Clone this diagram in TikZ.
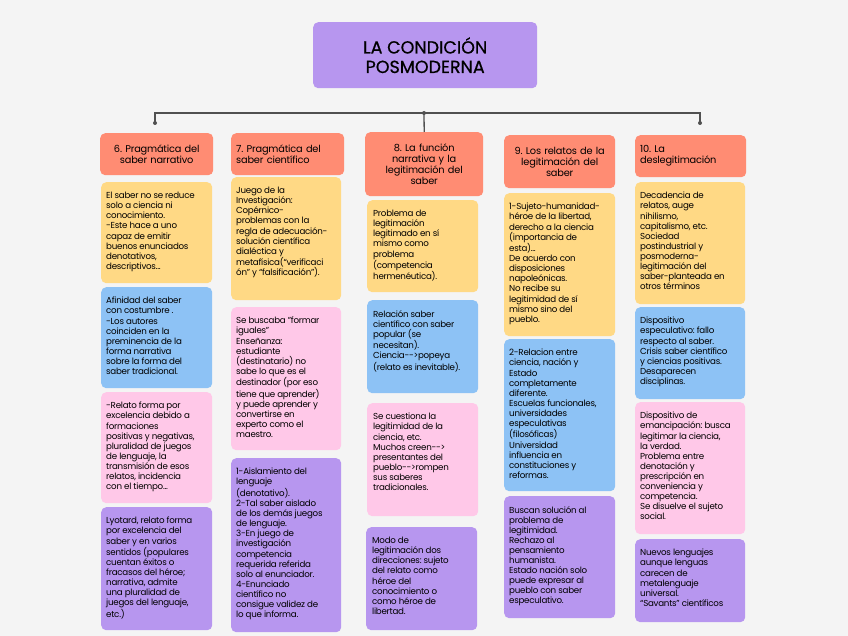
\documentclass[tikz,border=0pt]{standalone}
\usepackage{fontspec}
\setmainfont{Poppins}
\frenchspacing
\definecolor{bgc}{HTML}{F4F4F4}
\definecolor{salmon}{HTML}{FF8C73}
\definecolor{yel}{HTML}{FFD985}
\definecolor{blu}{HTML}{8DC2F5}
\definecolor{pnk}{HTML}{FFC8E8}
\definecolor{prp}{HTML}{B796EF}
\definecolor{linkc}{HTML}{505050}
\tikzset{
  cell/.style={rounded corners=5pt, inner sep=0pt, anchor=north west},
  note/.style={anchor=north west, inner sep=0pt, align=left, font=\fontsize{8.7}{10.1}\selectfont\addfontfeature{LetterSpace=-3}},
  head/.style={rounded corners=5pt, fill=salmon, anchor=north west, inner sep=5pt, font=\fontsize{9.8}{11}\selectfont\addfontfeature{LetterSpace=-2}},
  link/.style={draw=linkc, line width=1.3pt},
}
\begin{document}
\begin{tikzpicture}[x=1pt,y=-1pt]
  \fill[bgc] (0,0) rectangle (848,636);
  \node[cell, fill=prp, minimum width=224pt, minimum height=66pt, align=center, font=\fontsize{17.5}{19.5}\selectfont\addfontfeature{FakeBold=0.6}] (t) at (313,22) {LA CONDICIÓN\\POSMODERNA};

  % headers
  \node[head, text width=103pt, minimum height=42pt, align=center] (h6) at (100,133) {6. Pragmática del\\saber narrativo};
  \node[head, text width=103pt, minimum height=42pt, align=left] (h7) at (231,133) {7. Pragmática del\\saber científico};
  \node[head, text width=108pt, minimum height=64pt, align=center] (h8) at (365,132) {8. La función\\narrativa y la\\legitimación del\\saber};
  \node[head, text width=101pt, minimum height=53pt, align=center] (h9) at (504,135) {9. Los relatos de la\\legitimación del\\saber};
  \node[head, text width=101pt, minimum height=42pt, align=left] (h10) at (635,135) {10. La\\deslegitimación};

  % links
  \coordinate (j6) at (155,123);
  \coordinate (jm) at (424,113);
  \coordinate (j10) at (700,123);
  \draw[link] (j6) |- (jm) -| (j10);
  \draw[link] (jm) -- (h8.north);
  \fill[linkc] (j6) circle (2pt) (jm) circle (2pt) (j10) circle (2pt);

  % column 6
  \node[cell, fill=yel, minimum width=111pt, minimum height=101pt] (n6a) at (101,182) {};
  \node[note] (n6at) at ([shift={(5pt,-10pt)}]n6a.north west) {El saber no se reduce\\solo a ciencia ni\\conocimiento.\\-Este hace a uno\\capaz de emitir\\buenos enunciados\\denotativos,\\descriptivos...};
  \node[cell, fill=blu, minimum width=111pt, minimum height=101pt] (n6b) at (101,287) {};
  \node[note] (n6bt) at ([shift={(5pt,-10pt)}]n6b.north west) {Afinidad del saber\\con costumbre .\\-Los autores\\coinciden en la\\preminencia de la\\forma narrativa\\sobre la forma del\\saber tradicional.};
  \node[cell, fill=pnk, minimum width=111pt, minimum height=111pt] (n6c) at (101,392) {};
  \node[note] (n6ct) at ([shift={(5pt,-10pt)}]n6c.north west) {-Relato forma por\\excelencia debido a\\formaciones\\positivas y negativas,\\pluralidad de juegos\\de lenguaje, la\\transmisión de esos\\relatos, incidencia\\con el tiempo...};
  \node[cell, fill=prp, minimum width=111pt, minimum height=123pt] (n6d) at (101,507) {};
  \node[note] (n6dt) at ([shift={(5pt,-10pt)}]n6d.north west) {Lyotard, relato forma\\por excelencia del\\saber y en varios\\sentidos (populares\\cuentan éxitos o\\fracasos del héroe;\\narrativa, admite\\una pluralidad de\\juegos del lenguaje,\\etc.)};

  % column 7
  \node[cell, fill=yel, minimum width=110pt, minimum height=123pt] (n7a) at (231,177) {};
  \node[note] (n7at) at ([shift={(5pt,-10pt)}]n7a.north west) {Juego de la\\Investigación:\\Copérnico-\\ problemas con la\\regla de adecuación-\\solución científica\\dialéctica y\\metafísica(“verificaci\\ón” y “falsificación”).};
  \node[cell, fill=pnk, minimum width=110pt, minimum height=143pt] (n7b) at (231,307) {};
  \node[note] (n7bt) at ([shift={(5pt,-10pt)}]n7b.north west) {Se buscaba "formar\\iguales"\\Enseñanza:\\estudiante\\(destinatario) no\\sabe lo que es el\\destinador (por eso\\tiene que aprender)\\y puede aprender y\\convertirse en\\experto como el\\maestro.};
  \node[cell, fill=prp, minimum width=110pt, minimum height=174pt] (n7c) at (231,458) {};
  \node[note] (n7ct) at ([shift={(5pt,-10pt)}]n7c.north west) {1-Aislamiento del\\lenguaje\\(denotativo).\\2-Tal saber aislado\\de los demás juegos\\de lenguaje.\\3-En juego de\\investigación\\competencia\\requerida referida\\solo al enunciador.\\4-Enunciado\\científico no\\consigue validez de\\lo que informa.};

  % column 8
  \node[cell, fill=yel, minimum width=111pt, minimum height=92pt] (n8a) at (367,200) {};
  \node[note] (n8at) at ([shift={(6pt,-10pt)}]n8a.north west) {Problema de\\legitimación\\legitimado en sí\\mismo como\\problema\\(competencia\\hermenéutica).};
  \node[cell, fill=blu, minimum width=111pt, minimum height=93pt] (n8b) at (367,300) {};
  \node[note] (n8bt) at ([shift={(6pt,-10pt)}]n8b.north west) {Relación saber\\científico con saber\\popular (se\\necesitan).\\Ciencia{-}{-}>popeya\\(relato es inevitable).};
  \node[cell, fill=pnk, minimum width=111pt, minimum height=113pt] (n8c) at (367,403) {};
  \node[note] (n8ct) at ([shift={(6pt,-10pt)}]n8c.north west) {Se cuestiona la\\legitimidad de la\\ciencia, etc.\\Muchos creen{-}{-}>\\presentantes del\\pueblo{-}{-}>rompen\\sus saberes\\tradicionales.};
  \node[cell, fill=prp, minimum width=111pt, minimum height=103pt] (n8d) at (366,527) {};
  \node[note] (n8dt) at ([shift={(6pt,-10pt)}]n8d.north west) {Modo de\\legitimación dos\\direcciones: sujeto\\del relato como\\héroe del\\conocimiento o\\como héroe de\\libertad.};

  % column 9
  \node[cell, fill=yel, minimum width=111pt, minimum height=143pt] (n9a) at (504,193) {};
  \node[note] (n9at) at ([shift={(5pt,-10pt)}]n9a.north west) {1-Sujeto-humanidad-\\héroe de la libertad,\\derecho a la ciencia\\(importancia de\\esta)...\\De acuerdo con\\disposiciones\\napoleónicas.\\No recibe su\\legitimidad de sí\\mismo sino del\\pueblo.};
  \node[cell, fill=blu, minimum width=111pt, minimum height=152pt] (n9b) at (504,339) {};
  \node[note] (n9bt) at ([shift={(5pt,-10pt)}]n9b.north west) {2-Relacion entre\\ciencia, nación y\\Estado\\completamente\\diferente.\\Escuelas funcionales,\\universidades\\especulativas\\(filosóficas)\\Universidad\\influencia en\\constituciones y\\reformas.};
  \node[cell, fill=prp, minimum width=111pt, minimum height=122pt] (n9c) at (504,496) {};
  \node[note] (n9ct) at ([shift={(5pt,-10pt)}]n9c.north west) {Buscan solución al\\problema de\\legitimidad.\\Rechazo al\\pensamiento\\humanista.\\Estado nación solo\\puede expresar al\\pueblo con saber\\especulativo.};

  % column 10
  \node[cell, fill=yel, minimum width=110pt, minimum height=122pt] (n10a) at (635,182) {};
  \node[note] (n10at) at ([shift={(5pt,-10pt)}]n10a.north west) {Decadencia de\\relatos, auge\\nihilismo,\\capitalismo, etc.\\Sociedad\\postindustrial y\\posmoderna-\\legitimación del\\saber-planteada en\\otros términos};
  \node[cell, fill=blu, minimum width=110pt, minimum height=92pt] (n10b) at (635,307) {};
  \node[note] (n10bt) at ([shift={(5pt,-10pt)}]n10b.north west) {Dispositivo\\especulativo: fallo\\respecto al saber.\\Crisis saber científico\\y ciencias positivas.\\Desaparecen\\disciplinas.};
  \node[cell, fill=pnk, minimum width=110pt, minimum height=132pt] (n10c) at (635,402) {};
  \node[note] (n10ct) at ([shift={(5pt,-10pt)}]n10c.north west) {Dispositivo de\\emancipación: busca\\legitimar la ciencia,\\la verdad.\\Problema entre\\denotación y\\prescripción en\\conveniencia y\\competencia.\\Se disuelve el sujeto\\social.};
  \node[cell, fill=prp, minimum width=110pt, minimum height=83pt] (n10d) at (635,539) {};
  \node[note] (n10dt) at ([shift={(5pt,-10pt)}]n10d.north west) {Nuevos lenguajes\\aunque lenguas\\carecen de\\metalenguaje\\universal.\\“Savants” científicos};
\end{tikzpicture}
\end{document}
